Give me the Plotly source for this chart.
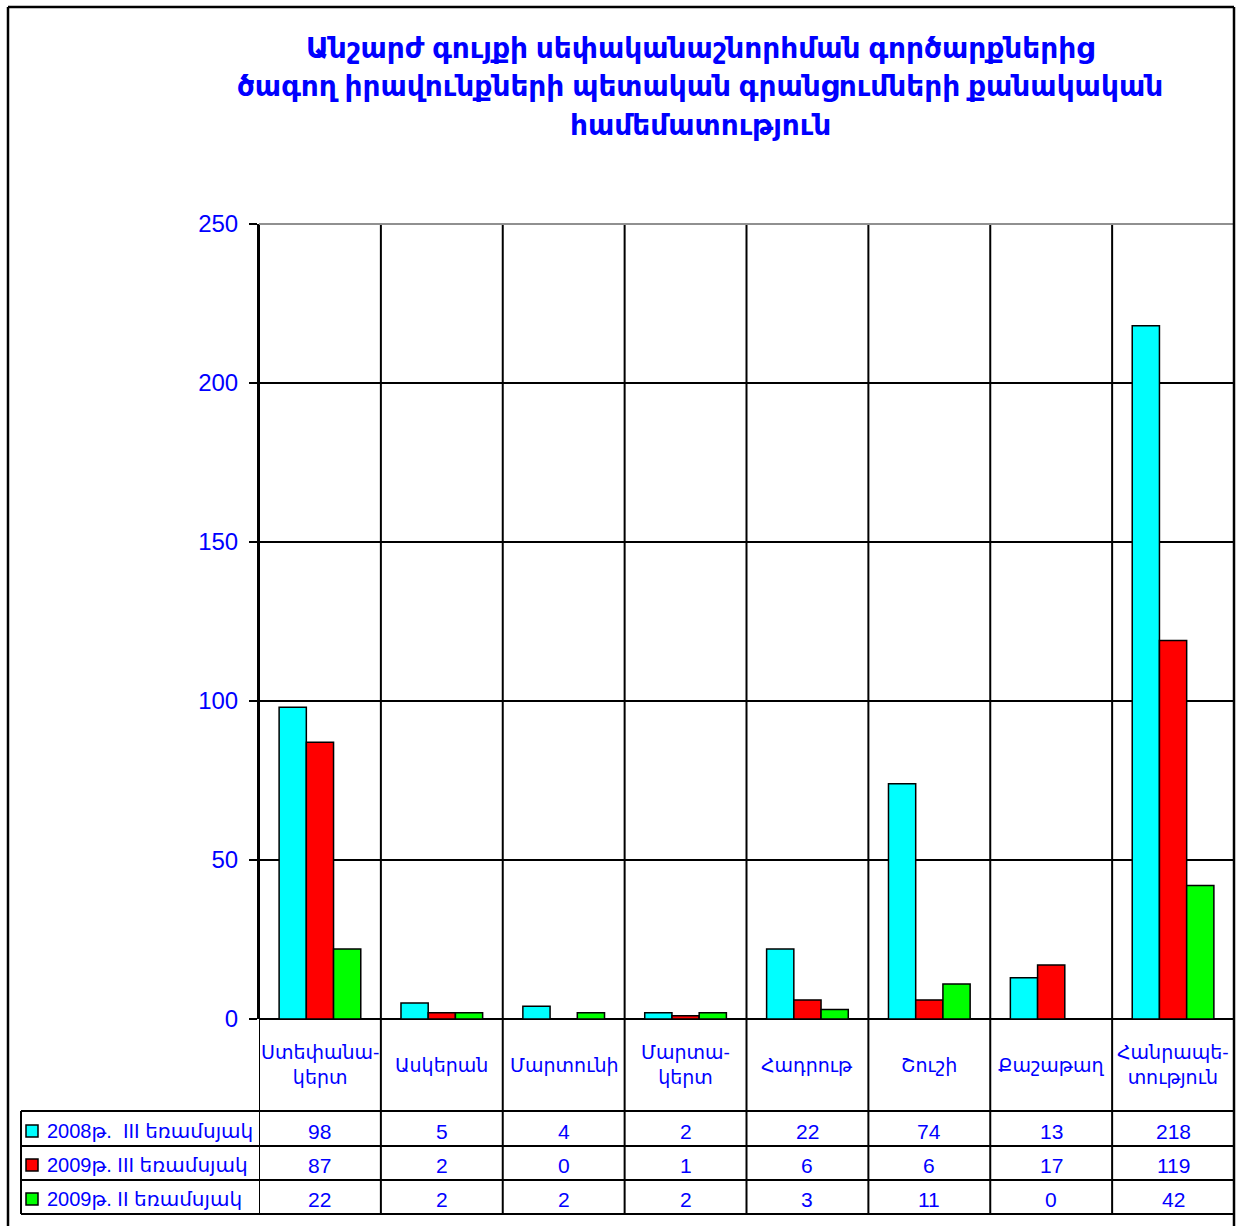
import plotly.graph_objects as go

# --- data -------------------------------------------------------------
categories = [
    "Ստեփանա-<br>կերտ", "Ասկերան", "Մարտունի", "Մարտա-<br>կերտ",
    "Հադրութ", "Շուշի", "Քաշաթաղ", "Հանրապե-<br>տություն",
]
series_names = [
    "2008թ.  III եռամսյակ",
    "2009թ. III եռամսյակ",
    "2009թ. II եռամսյակ",
]
q3_2008 = [98, 5, 4, 2, 22, 74, 13, 218]
q3_2009 = [87, 2, 0, 1, 6, 6, 17, 119]
q2_2009 = [22, 2, 2, 2, 3, 11, 0, 42]
series_values = [q3_2008, q3_2009, q2_2009]
series_colors = ["#00FFFF", "#FF0000", "#00FF00"]

title_lines = [
    "Անշարժ գույքի սեփականաշնորհման գործարքներից",
    "ծագող իրավունքների պետական գրանցումների քանակական",
    "համեմատություն",
]
y_ticks = [0, 50, 100, 150, 200, 250]

# --- layout geometry (pixels) ------------------------------------------
W, H = 1239, 1226
L, R, T, B = 259, 5, 224, 207
PW, PH = W - L - R, H - T - B
BLUE = "#0000FF"
FONT = "Liberation Sans, DejaVu Sans, sans-serif"


def px(xp):
    return (xp - L) / PW


def py(yp):
    return (H - B - yp) / PH


n = len(categories)
fig = go.Figure()
for name, vals, col in zip(series_names, series_values, series_colors):
    fig.add_trace(go.Bar(
        x=list(range(n)), y=vals, name=name,
        marker=dict(color=col, line=dict(color="black", width=1.5)),
        hoverinfo="y+name",
    ))

shapes = []
ann = []

# vertical category separators running through chart and table
for i in range(n + 1):
    shapes.append(dict(type="line", xref="x", yref="paper",
                       x0=i - 0.5, x1=i - 0.5, y0=1, y1=py(1214),
                       line=dict(color="black", width=2), layer="below"))

# table horizontal rules
for yp in [1111, 1146, 1180, 1214]:
    shapes.append(dict(type="line", xref="paper", yref="paper",
                       x0=px(21), x1=px(1234), y0=py(yp), y1=py(yp),
                       line=dict(color="black", width=2)))
shapes.append(dict(type="line", xref="paper", yref="paper",
                   x0=px(21), x1=px(21), y0=py(1111), y1=py(1214),
                   line=dict(color="black", width=2)))

# gray top edge of the plot area
shapes.append(dict(type="line", xref="paper", yref="paper",
                   x0=0, x1=1, y0=1, y1=1,
                   line=dict(color="#909090", width=2)))

# outer frame
frame = dict(color="black", width=2.5)
shapes += [
    dict(type="line", xref="paper", yref="paper", x0=px(8), x1=px(8),
         y0=py(7), y1=py(1240), line=frame),
    dict(type="line", xref="paper", yref="paper", x0=px(8), x1=px(1234),
         y0=py(7), y1=py(7), line=frame),
    dict(type="line", xref="paper", yref="paper", x0=px(1234), x1=px(1234),
         y0=py(7), y1=py(1240), line=frame),
]

# category labels
for i, c in enumerate(categories):
    ann.append(dict(x=i, xref="x", y=py(1065), yref="paper", text=c,
                    showarrow=False, yanchor="middle",
                    font=dict(family=FONT, size=19, color=BLUE)))

# table rows: legend key + values
row_centers = [1131, 1165, 1199]
for r, (name, vals, col) in enumerate(zip(series_names, series_values, series_colors)):
    yc = row_centers[r]
    shapes.append(dict(type="rect", xref="paper", yref="paper",
                       x0=px(26), x1=px(38), y0=py(yc - 6), y1=py(yc + 6),
                       fillcolor=col, line=dict(color="black", width=1.5)))
    ann.append(dict(x=px(45), xref="paper", y=py(yc), yref="paper", text=name,
                    showarrow=False, xanchor="left", yanchor="middle",
                    font=dict(family=FONT, size=20, color=BLUE)))
    for i, v in enumerate(vals):
        ann.append(dict(x=i, xref="x", y=py(yc), yref="paper", text=str(v),
                        showarrow=False, yanchor="middle",
                        font=dict(family=FONT, size=21, color=BLUE)))

# title
for k, line in enumerate(title_lines):
    ann.append(dict(x=px(700), xref="paper", y=py(48 + 38.5 * k), yref="paper",
                    text="<b>" + line + "</b>", showarrow=False,
                    xanchor="center", yanchor="middle",
                    font=dict(family=FONT, size=28, color=BLUE)))

fig.update_layout(
    width=W, height=H,
    margin=dict(l=L, r=R, t=T, b=B, pad=0),
    paper_bgcolor="white", plot_bgcolor="white",
    barmode="group", bargap=0.33, bargroupgap=0,
    showlegend=False,
    shapes=shapes, annotations=ann,
    xaxis=dict(range=[-0.5, n - 0.5], showticklabels=False, showgrid=False,
               zeroline=False, showline=False, ticks="", fixedrange=True),
    yaxis=dict(range=[0, 250], tickvals=y_ticks, showgrid=True,
               gridcolor="black", gridwidth=2, zeroline=True,
               zerolinecolor="black", zerolinewidth=2,
               showline=True, linecolor="black", linewidth=2,
               ticks="outside", ticklen=8, tickcolor="black", tickwidth=2,
               ticklabelstandoff=6,
               tickfont=dict(family=FONT, size=24, color=BLUE),
               fixedrange=True),
)

fig.write_html("out.html")
